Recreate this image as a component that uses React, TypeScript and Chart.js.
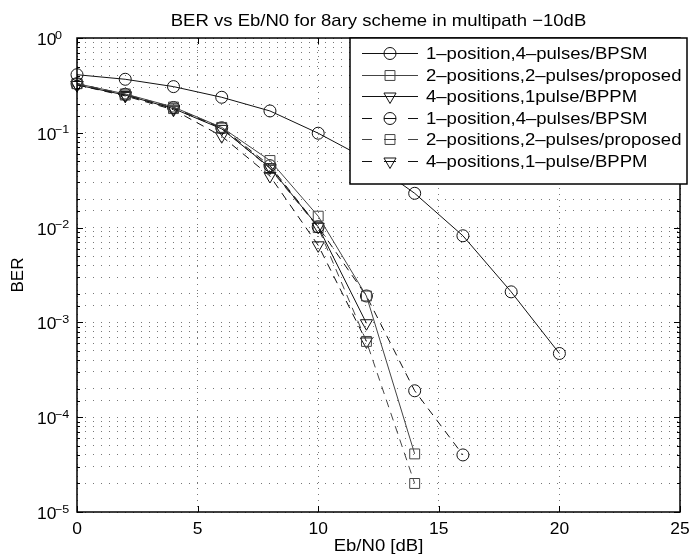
import React, { useEffect, useRef } from 'react';
import { Chart, registerables } from 'chart.js';

Chart.register(...registerables);

// ---------- data ----------
const TITLE = 'BER vs Eb/N0 for 8ary scheme in multipath \u221210dB';
const X_LABEL = 'Eb/N0 [dB]';
const Y_LABEL = 'BER';
const X_TICKS = [0, 5, 10, 15, 20, 25];
const Y_EXPONENTS = [0, -1, -2, -3, -4, -5];

const EBN0_SOLID_CIRCLE = [0, 2, 4, 6, 8, 10, 12, 14, 16, 18, 20];
const BER_SOLID_CIRCLE = [0.41, 0.367, 0.307, 0.237, 0.17, 0.099, 0.053, 0.023, 0.0082, 0.0021, 0.00047];

const EBN0_SOLID_SQUARE = [0, 2, 4, 6, 8, 10, 12, 14];
const BER_SOLID_SQUARE = [0.33, 0.257, 0.187, 0.114, 0.051, 0.0132, 0.0019, 0.000041];

const EBN0_SOLID_TRIANGLE = [0, 2, 4, 6, 8, 10, 12];
const BER_SOLID_TRIANGLE = [0.32, 0.25, 0.18, 0.11, 0.043, 0.0102, 0.00098];

const EBN0_DASHED_CIRCLE = [0, 2, 4, 6, 8, 10, 12, 14, 16];
const BER_DASHED_CIRCLE = [0.33, 0.255, 0.185, 0.113, 0.045, 0.0102, 0.0019, 0.00019, 0.00004];

const EBN0_DASHED_SQUARE = [0, 2, 4, 6, 8, 10, 12, 14];
const BER_DASHED_SQUARE = [0.33, 0.25, 0.18, 0.112, 0.042, 0.01, 0.00063, 0.00002];

const EBN0_DASHED_TRIANGLE = [0, 2, 4, 6, 8, 10, 12];
const BER_DASHED_TRIANGLE = [0.32, 0.245, 0.175, 0.092, 0.035, 0.0065, 0.00063];

const LEGEND_LABELS = [
  '1\u2013position,4\u2013pulses/BPSM',
  '2\u2013positions,2\u2013pulses/proposed',
  '4\u2013positions,1pulse/BPPM',
  '1\u2013position,4\u2013pulses/BPSM',
  '2\u2013positions,2\u2013pulses/proposed',
  '4\u2013positions,1\u2013pulse/BPPM',
];

// ---------- styles ----------
type Marker = 'circle' | 'rect' | 'triangle';
const SERIES: { xs: number[]; ys: number[]; marker: Marker; dashed: boolean; color: string }[] = [
  { xs: EBN0_SOLID_CIRCLE, ys: BER_SOLID_CIRCLE, marker: 'circle', dashed: false, color: '#111' },
  { xs: EBN0_SOLID_SQUARE, ys: BER_SOLID_SQUARE, marker: 'rect', dashed: false, color: '#444' },
  { xs: EBN0_SOLID_TRIANGLE, ys: BER_SOLID_TRIANGLE, marker: 'triangle', dashed: false, color: '#111' },
  { xs: EBN0_DASHED_CIRCLE, ys: BER_DASHED_CIRCLE, marker: 'circle', dashed: true, color: '#111' },
  { xs: EBN0_DASHED_SQUARE, ys: BER_DASHED_SQUARE, marker: 'rect', dashed: true, color: '#444' },
  { xs: EBN0_DASHED_TRIANGLE, ys: BER_DASHED_TRIANGLE, marker: 'triangle', dashed: true, color: '#111' },
];

const FONT = '"Liberation Sans", Arial, Helvetica, sans-serif';
const SX = 1.09;
const DASH = [8, 6];
const RADII: Record<Marker, number> = { circle: 6, rect: 7, triangle: 7 };

function drawText(ctx: CanvasRenderingContext2D, s: string, x: number, y: number, size: number, align: CanvasTextAlign, sx = SX) {
  ctx.save();
  ctx.font = `${size}px ${FONT}`;
  ctx.fillStyle = '#000';
  ctx.textAlign = align;
  ctx.textBaseline = 'alphabetic';
  ctx.translate(x, y);
  ctx.scale(sx, 1);
  ctx.fillText(s, 0, 0);
  ctx.restore();
}

function drawMarker(ctx: CanvasRenderingContext2D, m: Marker, x: number, y: number, color: string) {
  const r = RADII[m];
  ctx.save();
  ctx.strokeStyle = color;
  ctx.lineWidth = 1;
  ctx.setLineDash([]);
  ctx.beginPath();
  if (m === 'circle') {
    ctx.arc(x, y, r, 0, Math.PI * 2);
  } else if (m === 'rect') {
    const s = r * Math.SQRT1_2;
    ctx.rect(x - s, y - s, 2 * s, 2 * s);
  } else {
    const a0 = Math.PI; // pointing down
    for (let k = 0; k < 3; k++) {
      const a = a0 + (k * 2 * Math.PI) / 3;
      const px = x + Math.sin(a) * r;
      const py = y - Math.cos(a) * r;
      if (k === 0) ctx.moveTo(px, py);
      else ctx.lineTo(px, py);
    }
    ctx.closePath();
  }
  ctx.stroke();
  ctx.restore();
}

const overlay = {
  id: 'matlabOverlay',
  afterDraw(chart: any) {
    const ctx: CanvasRenderingContext2D = chart.ctx;
    const { left, right, top, bottom } = chart.chartArea;
    const xs = chart.scales.x;
    const ys = chart.scales.y;

    // inward ticks
    ctx.save();
    ctx.strokeStyle = '#000';
    ctx.lineWidth = 1;
    ctx.beginPath();
    for (const t of ys.ticks) {
      const v = t.value;
      const y = Math.round(ys.getPixelForValue(v)) + 0.5;
      const mant = v / Math.pow(10, Math.floor(Math.log10(v) + 1e-9));
      const major = Math.abs(mant - 1) < 1e-6;
      const len = major ? 6 : 3;
      ctx.moveTo(left, y);
      ctx.lineTo(left + len, y);
      ctx.moveTo(right, y);
      ctx.lineTo(right - len, y);
    }
    for (const v of X_TICKS) {
      const x = Math.round(xs.getPixelForValue(v)) + 0.5;
      ctx.moveTo(x, bottom);
      ctx.lineTo(x, bottom - 6);
      ctx.moveTo(x, top);
      ctx.lineTo(x, top + 6);
    }
    ctx.stroke();
    // box
    ctx.lineWidth = 1.5;
    ctx.strokeRect(left, top, right - left, bottom - top);
    ctx.restore();

    // tick labels
    for (const v of X_TICKS) {
      drawText(ctx, String(v), xs.getPixelForValue(v), 533.5, 16, 'center');
    }
    for (const e of Y_EXPONENTS) {
      const y = ys.getPixelForValue(Math.pow(10, e));
      drawText(ctx, '10', 37, y + 7, 16, 'left');
      drawText(ctx, e === 0 ? '0' : '\u2212' + String(-e), 55, y + 0.5, 11.5, 'left');
    }

    // titles
    drawText(ctx, TITLE, (left + right) / 2, 26, 17, 'center');
    drawText(ctx, X_LABEL, (left + right) / 2, 551, 17, 'center');
    ctx.save();
    ctx.translate(23, (top + bottom) / 2);
    ctx.rotate(-Math.PI / 2);
    drawText(ctx, Y_LABEL, 0, 0, 17, 'center', 1);
    ctx.restore();

    // legend
    const bx = 350, by = 38, bw = 337, bh = 146;
    ctx.save();
    ctx.fillStyle = '#fff';
    ctx.fillRect(bx, by, bw, bh);
    ctx.strokeStyle = '#000';
    ctx.lineWidth = 1.5;
    ctx.strokeRect(bx, by, bw, bh);
    ctx.restore();
    SERIES.forEach((s, i) => {
      const cy = 53.3 + i * 21.5;
      const yy = Math.round(cy) + 0.5;
      ctx.save();
      ctx.strokeStyle = s.color;
      ctx.lineWidth = 1;
      ctx.beginPath();
      if (s.dashed) {
        ctx.moveTo(362, yy); ctx.lineTo(372, yy);
        ctx.moveTo(384, yy); ctx.lineTo(396, yy);
        ctx.moveTo(408, yy); ctx.lineTo(418, yy);
      } else {
        ctx.moveTo(362, yy); ctx.lineTo(418, yy);
      }
      ctx.stroke();
      ctx.restore();
      drawMarker(ctx, s.marker, 390, yy, s.color);
      drawText(ctx, LEGEND_LABELS[i], 426, cy + 6, 17, 'left');
    });
  },
};

export default function App() {
  const ref = useRef<HTMLCanvasElement | null>(null);
  useEffect(() => {
    if (!ref.current) return;
    const datasets = SERIES.map((s, i) => ({
      label: LEGEND_LABELS[i],
      data: s.xs.map((x, k) => ({ x, y: s.ys[k] })),
      borderColor: s.color,
      borderWidth: 1,
      borderDash: s.dashed ? DASH : [],
      backgroundColor: 'rgba(0,0,0,0)',
      pointStyle: s.marker,
      pointRadius: RADII[s.marker],
      pointRotation: s.marker === 'triangle' ? 180 : 0,
      pointBorderColor: s.color,
      pointBackgroundColor: 'rgba(0,0,0,0)',
      pointBorderWidth: 1,
      fill: false,
      tension: 0,
      clip: false as any,
    }));
    const chart = new Chart(ref.current, {
      type: 'line',
      data: { datasets },
      options: {
        animation: false,
        responsive: true,
        maintainAspectRatio: false,
        layout: { padding: { left: 77, top: 38, right: 12, bottom: 42 } },
        plugins: { legend: { display: false }, title: { display: false }, tooltip: { enabled: false } },
        scales: {
          x: {
            type: 'linear',
            min: 0,
            max: 25,
            ticks: { display: false, stepSize: 5 },
            grid: { color: '#777', lineWidth: 1, drawTicks: false },
            border: { display: false, dash: [1, 5] },
          },
          y: {
            type: 'logarithmic',
            min: 1e-5,
            max: 1,
            ticks: { display: false },
            grid: { color: '#777', lineWidth: 1, drawTicks: false },
            border: { display: false, dash: [1, 7] },
          },
        },
      },
      plugins: [overlay],
    });
    return () => chart.destroy();
  }, []);
  return (
    <div style={{ position: 'absolute', left: 0, top: 0, width: 692, height: 554, background: '#fff' }}>
      <canvas ref={ref} />
    </div>
  );
}
